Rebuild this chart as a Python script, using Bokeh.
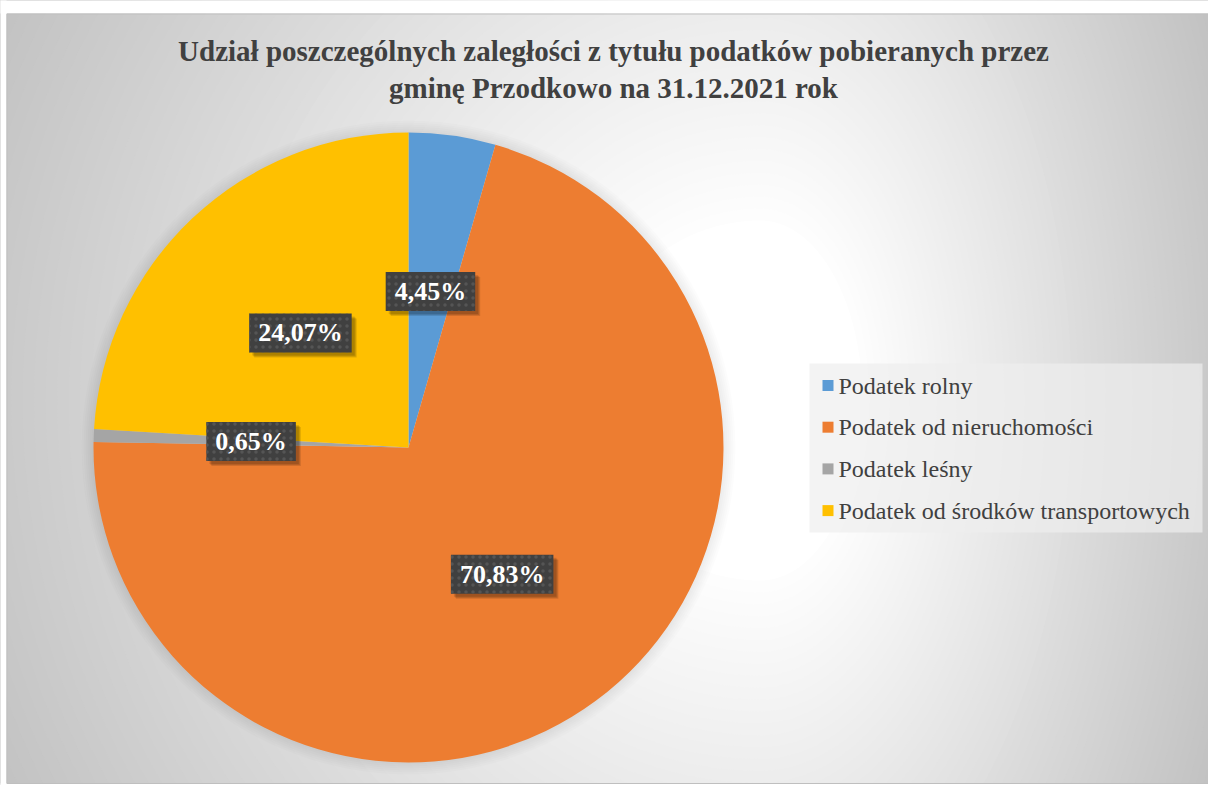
import numpy as np
from bokeh.plotting import figure
from bokeh.models import Range1d, ColumnDataSource
from bokeh.core.properties import value
from bokeh.embed import file_html
from bokeh.resources import INLINE

# ---------------- data ----------------
title_lines = [
    "Udział poszczególnych zaległości z tytułu podatków pobieranych przez",
    "gminę Przodkowo na 31.12.2021 rok",
]
categories = [
    "Podatek rolny",
    "Podatek od nieruchomości",
    "Podatek leśny",
    "Podatek od środków transportowych",
]
shares = [4.45, 70.83, 0.65, 24.07]
colors = ["#5B9BD5", "#ED7D31", "#A5A5A5", "#FFC000"]

FONT = "Liberation Serif"

# ---------------- figure ----------------
W, H = 1208, 785
p = figure(width=W, height=H, x_range=Range1d(0, W), y_range=Range1d(0, H),
           output_backend="svg", toolbar_location=None, min_border=0,
           x_axis_location=None, y_axis_location=None)
p.grid.visible = False
p.outline_line_color = None
p.background_fill_color = "white"
p.border_fill_color = "white"

# ---------------- background gradient (vector bands) ----------------
gcx, gcy = 760, 385
t = np.linspace(0, 2 * np.pi, 181)
bxs, bys, bcol = [], [], []
for d in np.linspace(1.55, 0.3, 64):
    ct, st = np.cos(t), np.sin(t)
    sx = np.where(ct < 0, 580.0, 340.0)
    bxs.append(gcx + sx * d * ct)
    bys.append(gcy + 600.0 * d * st)
    gl = int(np.clip(255 - (d - 0.3) * 52, 185, 255))
    bcol.append("#%02x%02x%02x" % (gl, gl, gl))
p.patches(xs=bxs, ys=bys, fill_color=bcol, line_color=None)
# white page margins outside the chart area
p.quad(left=[-10, -10, -10], right=[6, 1220, 1220], bottom=[-10, 772, -10],
       top=[800, 800, 2], fill_color="white", line_color=None)
p.quad(left=6.5, right=1210, bottom=2, top=771.5, fill_color=None,
       line_color="#bfbfbf", line_width=1)

# ---------------- title ----------------
p.text(x=[613, 613], y=[735, 698], text=title_lines,
       text_font=value(FONT), text_font_style="bold",
       text_font_size="29px", text_color="#404040",
       text_align="center", text_baseline="middle")

# ---------------- pie ----------------
cx, cy, R = 408, 338, 315
fr = np.array(shares) / np.sum(shares)
cum = np.concatenate([[0], np.cumsum(fr)])
start = np.pi / 2 - 2 * np.pi * cum[:-1]
end = np.pi / 2 - 2 * np.pi * cum[1:]
mid = (start + end) / 2

# soft glow/shadow around pie
for k in range(1, 7):
    p.circle(x=cx, y=cy, radius=R + 2 * k, fill_color="black",
             fill_alpha=0.012, line_color=None)

src = ColumnDataSource(dict(start=start, end=end, color=colors, cat=categories))
p.wedge(x=cx, y=cy, radius=R, start_angle="start", end_angle="end",
        direction="clock", fill_color="color", line_color=None, source=src)

# ---------------- data labels ----------------
labels = [f"{v:.2f}%".replace(".", ",") for v in shares]
lx = cx + 0.5 * R * np.cos(mid)
ly = cy + 0.5 * R * np.sin(mid)
lsrc = ColumnDataSource(dict(x=lx, y=ly, t=labels))
for off, a in [(3, 0.12), (4, 0.12), (5, 0.12)]:
    p.text(x="x", y="y", text="t", source=lsrc,
           text_font=value(FONT), text_font_style="bold",
           text_font_size="26px", text_alpha=0,
           text_align="center", text_baseline="middle",
           x_offset=off, y_offset=off,
           background_fill_color="black", background_fill_alpha=a,
           padding=(9, 5))
p.text(x="x", y="y", text="t", source=lsrc,
       text_font=value(FONT), text_font_style="bold",
       text_font_size="26px", text_color="white",
       text_align="center", text_baseline="middle",
       background_fill_color="#404040",
       background_hatch_pattern="dot", background_hatch_color="#555555",
       background_hatch_scale=7,
       padding=(9, 5))

# ---------------- legend ----------------
p.quad(left=809, right=1202, bottom=253, top=422, fill_color="#eeeeee",
       fill_alpha=0.7, line_color=None)
leg_y = 400 - 41.7 * np.arange(len(categories))
p.scatter(x=[827.5] * len(categories), y=leg_y, marker="square", size=11,
          fill_color=colors, line_color=None)
p.text(x=[838] * len(categories), y=leg_y, text=categories,
       text_font=value(FONT), text_font_size="24px",
       text_color="#404040", text_align="left", text_baseline="middle")

open("out.html", "w").write(file_html(p, INLINE))
